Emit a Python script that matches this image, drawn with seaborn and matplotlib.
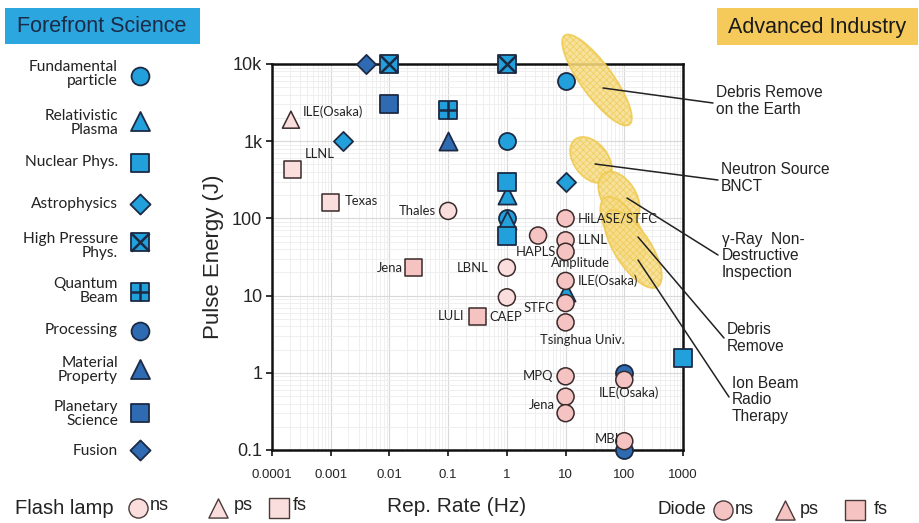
import matplotlib
matplotlib.use("Agg")
import matplotlib.pyplot as plt
import seaborn as sns
import pandas as pd
import numpy as np
from matplotlib.patches import Ellipse, Rectangle
from matplotlib.lines import Line2D
from matplotlib.ticker import FixedLocator, LogLocator, NullFormatter

sns.set_theme(style="white")
plt.rcParams['font.family'] = ['Liberation Sans', 'DejaVu Sans']
plt.rcParams['hatch.linewidth'] = 0.5

# ---------------- data ----------------
sci_cat = ['Fusion', 'High Pressure Phys.', 'High Pressure Phys.', 'Fundamental particle',
           'Planetary Science', 'Quantum Beam', 'Astrophysics', 'Material Property',
           'Fundamental particle', 'Nuclear Phys.', 'Relativistic Plasma', 'Astrophysics',
           'Fundamental particle', 'Relativistic Plasma', 'Nuclear Phys.', 'Relativistic Plasma',
           'Processing', 'Processing', 'Nuclear Phys.']
sci_x = [0.004, 0.01, 1, 10, 0.01, 0.1, 0.0016, 0.1, 1, 1, 1, 10, 1, 1, 1, 10, 100, 100, 1000]
sci_y = [10000, 10000, 10000, 6000, 3000, 2500, 1000, 1000, 1000, 300, 200, 300, 100, 95, 60, 11,
         1.0, 0.1, 1.55]

las_label = ['ILE(Osaka)', 'LLNL', 'Texas', 'Thales', 'Jena', 'LULI', 'LBNL', 'CAEP', 'HAPLS',
             'HiLASE/STFC', 'LLNL', 'Amplitude', 'ILE(Osaka)', 'STFC', 'Tsinghua Univ.', 'MPQ',
             'Jena', '', 'ILE(Osaka)', 'MBI']
las_x = [0.00021, 0.00022, 0.001, 0.1, 0.026, 0.32, 1, 1, 3.4, 10, 10, 10, 10, 10, 10, 10, 10, 10,
         100, 100]
las_y = [1900, 430, 160, 125, 23, 5.4, 23, 9.5, 60, 100, 52, 37, 15.5, 8, 4.5, 0.9, 0.49, 0.30,
         0.81, 0.13]
las_pulse = ['ps', 'fs', 'fs', 'ns', 'fs', 'fs', 'ns', 'ns', 'ns', 'ns', 'ns', 'ns', 'ns', 'ns', 'ns',
             'ns', 'ns', 'ns', 'ns', 'ns']
las_pump = ['Flash lamp', 'Flash lamp', 'Flash lamp', 'Flash lamp', 'Diode', 'Diode', 'Flash lamp',
            'Flash lamp', 'Diode', 'Diode', 'Diode', 'Diode', 'Diode', 'Diode', 'Diode', 'Diode',
            'Diode', 'Diode', 'Diode', 'Diode']

x_ticks = [1e-4, 1e-3, 1e-2, 1e-1, 1, 10, 100, 1000]
x_ticklabels = ['0.0001', '0.001', '0.01', '0.1', '1', '10', '100', '1000']
y_ticks = [0.1, 1, 10, 100, 1000, 10000]
y_ticklabels = ['0.1', '1', '10', '100', '1k', '10k']

apps = ['Debris Remove\non the Earth', 'Neutron Source\nBNCT', 'γ-Ray  Non-\nDestructive\nInspection',
        'Debris\nRemove', 'Ion Beam\nRadio\nTherapy']

# ---------------- styles ----------------
LB = '#22A0DC'
DB = '#2F6BB3'
EDGE = '#1C2A44'
cat_style = {
    'Fundamental particle': ('o', LB, None),
    'Relativistic Plasma': ('^', LB, None),
    'Nuclear Phys.': ('s', LB, None),
    'Astrophysics': ('D', LB, None),
    'High Pressure Phys.': ('s', LB, 'x'),
    'Quantum Beam': ('s', LB, '+'),
    'Processing': ('o', DB, None),
    'Material Property': ('^', DB, None),
    'Planetary Science': ('s', DB, None),
    'Fusion': ('D', DB, None),
}
size_map = {'o': 150, '^': 170, 's': 150, 'D': 95}
pump_pal = {'Flash lamp': '#FADDDD', 'Diode': '#F5C3C1'}
pulse_mk = {'ns': 'o', 'ps': '^', 'fs': 's'}

# label offsets in pixels (dx, dy up), ha
lab_off = [(12, 8, 'left'), (13, 15, 'left'), (14, 2, 'left'), (-12, 0, 'right'), (-11, 0, 'right'),
           (-14, 0, 'right'), (-18, 0, 'right'), (-1, -20, 'center'), (-2, -16, 'center'),
           (12, 0, 'left'), (12, 0, 'left'), (15, -11, 'center'), (12, 0, 'left'), (-11, -5, 'right'),
           (17, -18, 'center'), (-12, 0, 'right'), (-11, -8, 'right'), (0, 0, 'left'),
           (5, -13, 'center'), (-5, 2, 'right')]

sci = pd.DataFrame({'cat': sci_cat, 'x': sci_x, 'y': sci_y})
las = pd.DataFrame({'label': las_label, 'x': las_x, 'y': las_y, 'pulse': las_pulse, 'pump': las_pump})

# ---------------- figure ----------------
fig = plt.figure(figsize=(9.2, 5.23), dpi=100)
ax = fig.add_axes([272 / 920, 1 - 450 / 523, (683 - 272) / 920, (450 - 64) / 523])
ax.set_xscale('log')
ax.set_yscale('log')
ax.set_xlim(1e-4, 1e3)
ax.set_ylim(0.1, 1e4)

# overlay in pixel space (for decorations)
ov = fig.add_axes([0, 0, 1, 1], zorder=10)
ov.set_xlim(0, 920)
ov.set_ylim(523, 0)
ov.axis('off')
ov.patch.set_alpha(0)

for c, (mk, col, over) in cat_style.items():
    d = sci[sci.cat == c]
    if d.empty:
        continue
    sns.scatterplot(data=d, x='x', y='y', marker=mk, color=col, s=size_map[mk], edgecolor=EDGE,
                    linewidth=1.3, ax=ax, clip_on=False, zorder=3, legend=False)
    if over:
        sns.scatterplot(data=d, x='x', y='y', marker=over, color=EDGE, s=size_map[mk] * 1.05,
                        linewidth=1.8, ax=ax, clip_on=False, zorder=3.5, legend=False)

sns.scatterplot(data=las, x='x', y='y', hue='pump', style='pulse', palette=pump_pal,
                markers=pulse_mk, s=150, edgecolor='#3a2a2a', linewidth=1.1, ax=ax,
                clip_on=False, zorder=4, legend=False)
for i, r in las.iterrows():
    if not r['label']:
        continue
    dx, dy, ha = lab_off[i]
    ax.annotate(r['label'], (r['x'], r['y']), xytext=(dx * 0.72, dy * 0.72),
                textcoords='offset points', ha=ha, va='center', fontsize=9.4,
                family=['Lato', 'DejaVu Sans'], color='#222222', zorder=6)

# application ellipses and leader lines (pixel positions, drawn inside main axes)
ell = [((597, 80), 110, 32, 54), ((591, 160), 52, 34, 52), ((619, 197), 56, 34, 58),
       ((623, 229), 72, 32, 60), ((633, 249), 90, 36, 57)]
for (cx, cy), w, h, a in ell:
    ax.add_patch(Ellipse((cx, cy), w, h, angle=a, facecolor='#F6DD8C', edgecolor='#EFC94E',
                         hatch='xxxxx', linewidth=1.3, alpha=0.85, zorder=4.5,
                         transform=ov.transData, clip_on=False))
lines = [((603, 88), (713, 103)), ((595, 164), (718, 180)), ((627, 198), (718, 255)),
         ((638, 237), (724, 338)), ((638, 260), (729, 397))]
for (x0, y0), (x1, y1) in lines:
    ax.add_line(Line2D([x0, x1], [y0, y1], color='#222222', linewidth=1.1, zorder=4.7,
                       transform=ov.transData, clip_on=False))

ax.xaxis.set_major_locator(FixedLocator(x_ticks))
ax.set_xticklabels(x_ticklabels)
ax.yaxis.set_major_locator(FixedLocator(y_ticks))
ax.set_yticklabels(y_ticklabels)
ax.xaxis.set_minor_locator(LogLocator(base=10, subs=np.arange(2, 10)))
ax.yaxis.set_minor_locator(LogLocator(base=10, subs=np.arange(2, 10)))
ax.xaxis.set_minor_formatter(NullFormatter())
ax.yaxis.set_minor_formatter(NullFormatter())
ax.grid(True, which='major', color='#D9D9D9', linewidth=0.8)
ax.grid(True, which='minor', color='#EDEDED', linewidth=0.6)
ax.set_axisbelow(True)
for s in ax.spines.values():
    s.set_color('#111111')
    s.set_linewidth(1.8)
ax.tick_params(axis='y', which='major', direction='out', length=4, width=1.2, labelsize=13,
               pad=3, left=True, color='#111111')
ax.tick_params(axis='x', which='major', direction='out', length=4, width=1.2, labelsize=9.5,
               pad=10, bottom=True, color='#111111')
ax.tick_params(which='minor', length=0)
ax.set_ylabel('Pulse Energy (J)', fontsize=16, labelpad=6)
ax.set_xlabel('Rep. Rate (Hz)', fontsize=15, va='center')
ax.xaxis.set_label_coords((457 - 272) / (683 - 272), -(507 - 450) / (450 - 64))

app_pos = [(716, 101), (721, 178), (722, 256), (727, 338), (732, 400)]
for t, (x, y) in zip(apps, app_pos):
    ov.text(x, y, t, fontsize=11.2, ha='left', va='center', color='#222222', linespacing=1.1)

# headers
ov.add_patch(Rectangle((5, 8), 195, 36, facecolor='#2BA6DE', edgecolor='none'))
ov.text(102, 26, 'Forefront Science', fontsize=15.5, ha='center', va='center', color='#1B2A46')
ov.add_patch(Rectangle((717, 8), 201, 37, facecolor='#F5C95A', edgecolor='none'))
ov.text(817, 27, 'Advanced Industry', fontsize=15.5, ha='center', va='center', color='#1a1a1a')

# left legend
leg_items = [('Fundamental\nparticle', 74, 76), ('Relativistic\nPlasma', 123, 121),
             ('Nuclear Phys.', 162, 163), ('Astrophysics', 204, 204),
             ('High Pressure\nPhys.', 246, 242), ('Quantum\nBeam', 291, 292),
             ('Processing', 330, 331), ('Material\nProperty', 370, 369),
             ('Planetary\nScience', 414, 413), ('Fusion', 451, 450)]
for (lab, ty, my), (c, (mk, col, over)) in zip(leg_items, cat_style.items()):
    ov.text(118, ty, lab, fontsize=11.2, ha='right', va='center', family=['Lato', 'DejaVu Sans'],
            color='#222222', linespacing=1.05)
    ov.scatter([140], [my], marker=mk, s=size_map[mk] * 1.1, color=col, edgecolor=EDGE,
               linewidth=1.3, zorder=3)
    if over:
        ov.scatter([140], [my], marker=over, s=size_map[mk] * 1.15, color=EDGE, linewidth=1.8, zorder=4)

# bottom legend
ov.text(15, 508, 'Flash lamp', fontsize=14.5, ha='left', va='center', color='#222222')
ov.text(658, 510, 'Diode', fontsize=13.5, ha='left', va='center', color='#222222')
for (x, mk, col) in [(138, 'o', pump_pal['Flash lamp']), (218, '^', pump_pal['Flash lamp']),
                     (279, 's', pump_pal['Flash lamp']), (723, 'o', pump_pal['Diode']),
                     (785, '^', pump_pal['Diode']), (855, 's', pump_pal['Diode'])]:
    ov.scatter([x], [508 if x < 400 else 510], marker=mk, s=190, color=col, edgecolor='#4a3a3a',
               linewidth=1.0)
for (x, t, y) in [(150, 'ns', 506), (234, 'ps', 506), (293, 'fs', 506), (735, 'ns', 510),
                  (800, 'ps', 510), (874, 'fs', 510)]:
    ov.text(x, y, t, fontsize=13, ha='left', va='center', color='#222222')

fig.savefig('out.png', dpi=100)
